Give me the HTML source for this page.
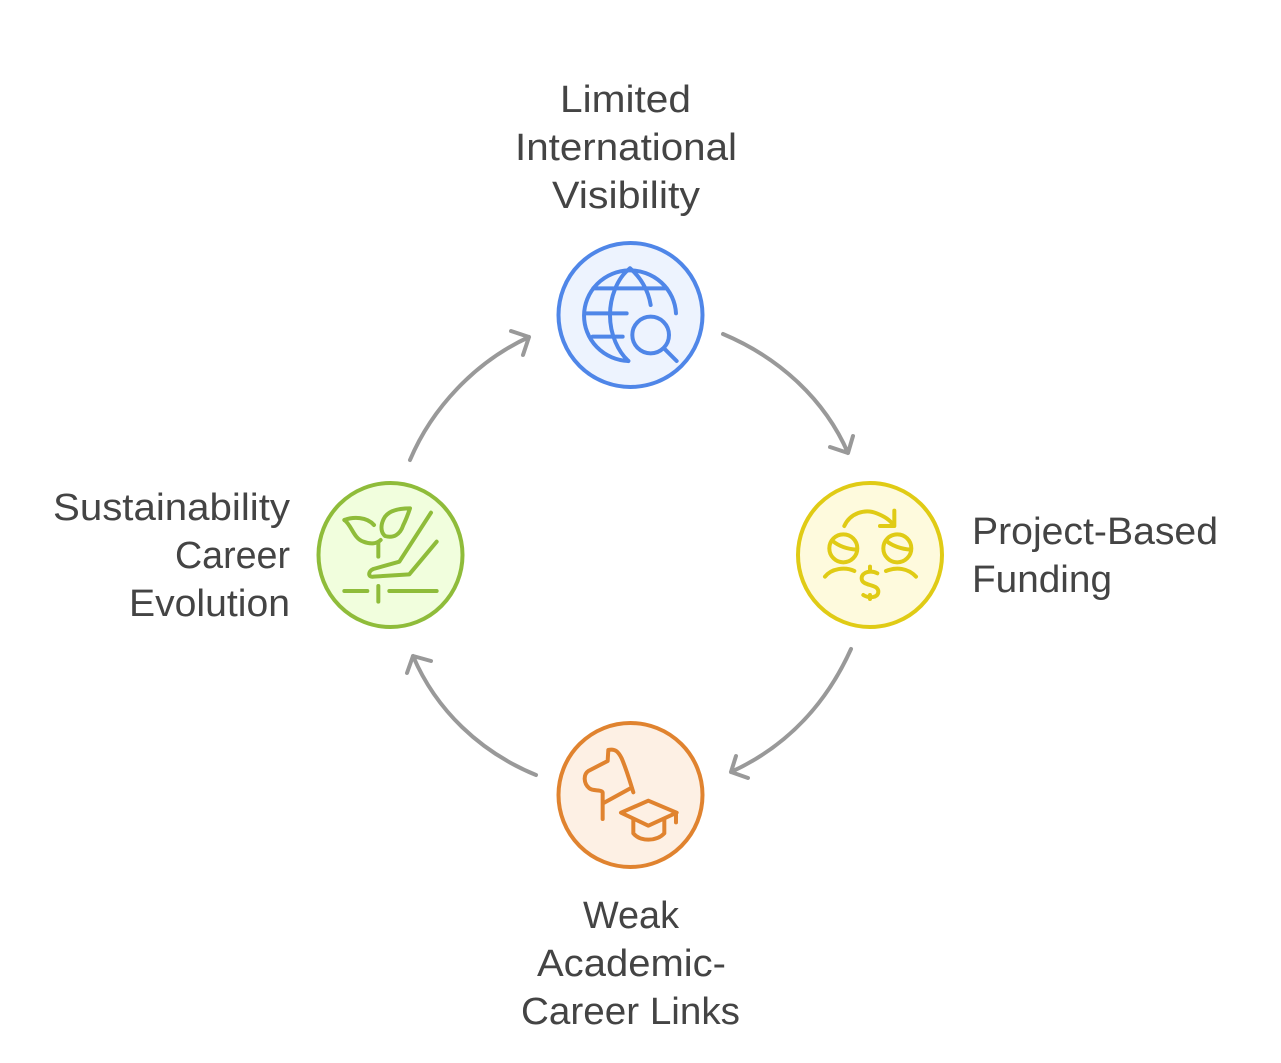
<!DOCTYPE html>
<html>
<head>
<meta charset="utf-8">
<style>
html,body{margin:0;padding:0;background:#fff;width:1281px;height:1063px;overflow:hidden}
svg{display:block}
text{font-family:"Liberation Sans",sans-serif;font-size:38px;fill:#444}
.a{fill:none;stroke:#999;stroke-width:4;stroke-linecap:round;stroke-linejoin:round}
.i{fill:none;stroke-width:12;stroke-linecap:round;stroke-linejoin:round}
</style>
</head>
<body>
<svg width="1281" height="1063" viewBox="0 0 1281 1063" xmlns="http://www.w3.org/2000/svg">
<rect width="1281" height="1063" fill="#fff"/>

<path class="a" d="M723 334C780 358 825 400 848 453M830 447L848 453L853 436"/>
<path class="a" d="M851 649C828 700 790 745 731 772M748 778L731 772L736 756"/>
<path class="a" d="M536 775C480 752 436 710 413 656M407 673L413 656L431 661"/>
<path class="a" d="M410 460C432 408 475 362 529 337M511 331L529 337L523 355"/>

<circle cx="630.5" cy="315" r="72" fill="#edf3fe" stroke="#4f86e8" stroke-width="4"/>
<circle cx="870" cy="555" r="72" fill="#fefadd" stroke="#e0cb15" stroke-width="4"/>
<circle cx="630.5" cy="795" r="72" fill="#fdf0e4" stroke="#e0832f" stroke-width="4"/>
<circle cx="390.5" cy="555" r="72" fill="#f1fedd" stroke="#8fbc3a" stroke-width="4"/>

<g transform="translate(550 235) scale(.3333)" class="i" stroke="#4f86e8">
<path d="M378 235A138 136 0 1 0 235 378"/>
<path d="M240 100C200 130 180 190 180 240C180 300 205 350 235 378"/>
<path d="M240 100C270 125 295 165 302 210"/>
<path d="M130 160H350M105 235H230M128 305H218"/>
<circle cx="302" cy="300" r="55"/>
<path d="M342 340L380 378"/>
</g>

<g transform="translate(790 475) scale(.3333)" class="i" stroke="#e0cb15">
<path d="M163 153C180 115 225 100 260 115C285 125 300 135 312 152"/>
<path d="M313 107V153H270"/>
<circle cx="160" cy="220" r="42"/>
<circle cx="322" cy="220" r="42"/>
<path d="M128 198C145 212 170 222 200 224M290 198C305 212 335 222 362 224"/>
<path d="M105 305C125 280 165 275 193 288M288 288C320 275 355 280 378 305"/>
<path d="M262 295C245 285 215 290 215 310C215 335 265 325 265 350C265 370 235 370 220 360M240 275V290M240 360V372"/>
</g>

<g transform="translate(550 715) scale(.3333)" class="i" stroke="#e0832f">
<path d="M250 232C240 200 230 165 215 130C205 110 195 100 175 105L173 138L115 168C100 178 100 205 118 220C130 230 160 222 158 235V312"/>
<path d="M163 263L245 218"/>
<path d="M213 293L295 257L380 293L295 332Z"/>
<path d="M250 312V355C270 380 320 380 343 355V312"/>
<path d="M378 293V322"/>
</g>

<g transform="translate(310 475) scale(.3333)" class="i" stroke="#8fbc3a">
<path d="M103 135C130 125 170 125 192 150M103 135C125 150 130 190 160 200C180 208 200 207 212 195"/>
<path d="M300 100C270 100 240 105 225 125C212 145 210 170 225 183C250 190 270 180 280 150C290 130 295 115 300 100Z"/>
<path d="M205 205V245"/>
<path d="M363 113L268 260L190 282C172 290 175 308 190 305L298 298L380 200"/>
<path d="M103 348H172M238 348H380M205 333V380"/>
</g>

<text x="560" y="112" textLength="131" lengthAdjust="spacingAndGlyphs">Limited</text>
<text x="515" y="160" textLength="222" lengthAdjust="spacingAndGlyphs">International</text>
<text x="552" y="208" textLength="148" lengthAdjust="spacingAndGlyphs">Visibility</text>

<text x="972" y="544" textLength="246" lengthAdjust="spacingAndGlyphs">Project-Based</text>
<text x="972" y="592" textLength="140" lengthAdjust="spacingAndGlyphs">Funding</text>

<text x="583" y="928" textLength="96" lengthAdjust="spacingAndGlyphs">Weak</text>
<text x="537" y="976" textLength="189" lengthAdjust="spacingAndGlyphs">Academic-</text>
<text x="521" y="1024" textLength="219" lengthAdjust="spacingAndGlyphs">Career Links</text>

<text x="53" y="520" textLength="237" lengthAdjust="spacingAndGlyphs">Sustainability</text>
<text x="175" y="568" textLength="115" lengthAdjust="spacingAndGlyphs">Career</text>
<text x="129" y="616" textLength="161" lengthAdjust="spacingAndGlyphs">Evolution</text>
</svg>
</body>
</html>
